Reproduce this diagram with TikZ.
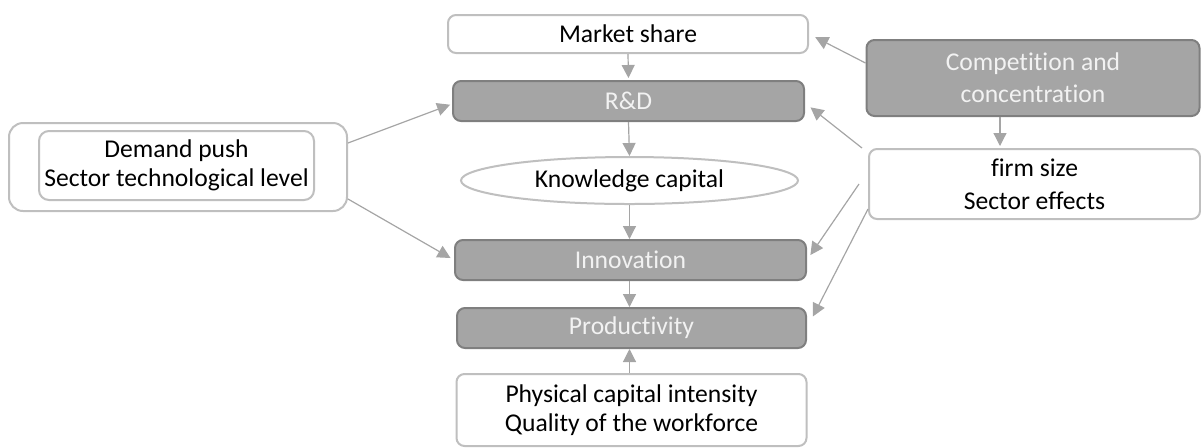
\documentclass[tikz,border=0pt]{standalone}
\usepackage{fontspec}
\setmainfont{Carlito}[Ligatures={NoCommon,NoRequired,NoContextual}]
\usetikzlibrary{arrows.meta,shapes.geometric}
\definecolor{edgegray}{HTML}{BFBFBF}
\definecolor{boxfill}{HTML}{A5A5A5}
\definecolor{boxedge}{HTML}{7F7F7F}
\definecolor{linkgray}{HTML}{A5A5A5}
\definecolor{lighttext}{HTML}{F2F2F2}
\tikzset{
  lightbox/.style={draw=edgegray, line width=1pt, fill=white, rounded corners=4pt,
    align=center, inner sep=0pt, text=black},
  darkbox/.style={draw=boxedge, line width=1pt, fill=boxfill, rounded corners=4pt,
    align=center, inner sep=0pt, text=lighttext},
  link/.style={draw=linkgray, line width=0.6pt,
    -{Triangle[length=6.5pt,width=6.5pt]}, shorten >=1pt}
}
\begin{document}
\begin{tikzpicture}[x=0.5pt, y=-0.5pt, font=\fontsize{12.8}{14.5}\selectfont]
\useasboundingbox (0,0) rectangle (1201,447);

% central chain
\node[lightbox, minimum width=180pt, minimum height=19pt] (ms) at (628,34) {Market share};
\node[darkbox, minimum width=175.5pt, minimum height=20pt] (rd) at (628.5,101) {R\&D};
\node[ellipse, draw=edgegray, line width=1pt, fill=white, inner sep=0pt,
      minimum width=168.5pt, minimum height=23.5pt] (kc) at (629.5,180.5) {Knowledge capital};
\node[darkbox, minimum width=175.5pt, minimum height=20pt] (inn) at (630.5,260) {Innovation};
\node[darkbox, minimum width=174.5pt, minimum height=20pt] (prod) at (631.5,328) {Productivity};
\node[lightbox, minimum width=175pt, minimum height=36pt] (phys) at (631.5,410)
  {Physical capital intensity\\Quality of the workforce};

% left-hand determinants
\node[lightbox, rounded corners=7pt, minimum width=169pt, minimum height=44pt] (lo) at (178,167) {};
\node[lightbox, rounded corners=5pt, minimum width=137.5pt, minimum height=34.5pt] (li) at (176.5,165.5)
  {Demand push\\Sector technological level};

% right-hand determinants
\node[darkbox, font=\fontsize{12.8}{16}\selectfont, minimum width=166.5pt, minimum height=38pt] (comp) at (1033,78)
  {Competition and\\concentration};
\node[lightbox, font=\fontsize{12.8}{16.5}\selectfont, minimum width=165.5pt, minimum height=35pt] (fs) at (1034.5,184)
  {firm size\\Sector effects};

% links
\draw[link] (ms.south) -- (rd.north);
\draw[link, shorten >=0pt] (rd.south) -- (kc.north);
\draw[link, shorten >=0pt] (kc.south) -- (kc.south |- inn.north);
\draw[link, shorten >=0pt] (inn.south -| kc.south) -- (kc.south |- prod.north);
\draw[link, shorten >=0pt] (phys.north -| kc.south) -- (kc.south |- prod.south);

\draw[link] ([yshift=12pt]lo.east) -- ([yshift=-1.5pt]rd.west);
\draw[link, shorten >=2pt] ([yshift=-16pt]lo.east) -- (inn.west);

\draw[link, shorten >=3.5pt] ([yshift=7.5pt]comp.west) -- (ms.east);
\draw[link] ([xshift=-16.5pt]comp.south) -- ([xshift=-16.5pt]comp.south |- fs.north);

\draw[link, shorten >=3.5pt] ([xshift=-3pt]fs.north west) -- ([yshift=-1pt]rd.east);
\draw[link, shorten >=3pt] ([xshift=-4.5pt]fs.west) -- (inn.east);
\draw[link, shorten >=6.5pt] ([yshift=5.5pt]fs.south west) -- (prod.east);
\end{tikzpicture}
\end{document}
